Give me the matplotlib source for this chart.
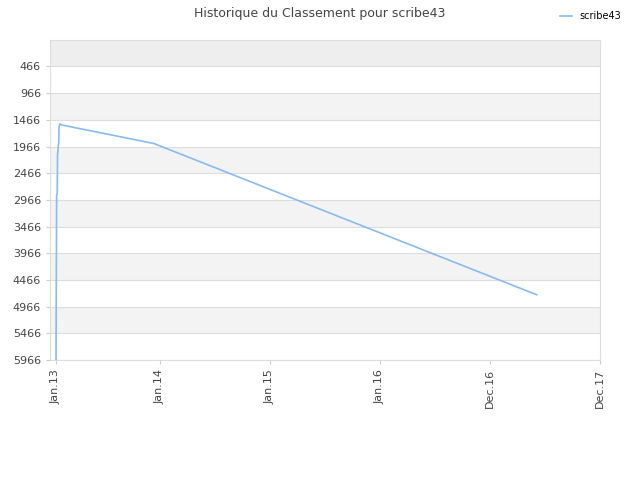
import matplotlib
matplotlib.use("Agg")
import matplotlib.pyplot as plt

# time axis in days since Jan.13 (approx.), rank values
x_vals = [0, 2, 4, 5, 7, 9, 10, 13, 17, 325, 1595]
ranks = [5966, 2873, 2860, 2130, 1980, 1900, 1600, 1540, 1560, 1910, 4744]
tick_pos = [0, 345, 710, 1075, 1440, 1805]
tick_labels = ["Jan.13", "Jan.14", "Jan.15", "Jan.16", "Dec.16", "Dec.17"]
y_ticks = [466, 966, 1466, 1966, 2466, 2966, 3466, 3966, 4466, 4966, 5466, 5966]

fig = plt.figure(figsize=(6.4, 4.8), dpi=100)
ax = fig.add_axes([50 / 640, 120 / 480, 550 / 640, 320 / 480])
ymin = -30
ax.set_ylim(5966, ymin)
ax.set_xlim(-20, 1805)

# alternating bands
edges = [ymin] + y_ticks
for i in range(len(edges) - 1):
    if i == 0:
        c = "#eeeeee"
    else:
        c = "#f3f3f3" if i % 2 == 0 else "white"
    ax.axhspan(edges[i], edges[i + 1], color=c, zorder=0, lw=0)
for t in y_ticks:
    ax.axhline(t, color="#dddddd", lw=0.8, zorder=1)

ax.plot(x_vals, ranks, color="#88bbee", lw=1.2, label="scribe43", zorder=3)

ax.set_yticks(y_ticks)
ax.set_yticklabels([str(t) for t in y_ticks], fontsize=8, color="#444444")
ax.set_xticks(tick_pos)
ax.set_xticklabels(tick_labels, rotation=90, fontsize=8, color="#444444")
for s in ax.spines.values():
    s.set_color("#dddddd")
ax.tick_params(length=3, color="#cccccc")

fig.suptitle("Historique du Classement pour scribe43", x=0.5, y=0.985, fontsize=9, color="#444444")
fig.legend(loc="upper right", bbox_to_anchor=(0.985, 0.995), frameon=False, fontsize=7, handlelength=1.2)

fig.savefig("out.png", dpi=100)
